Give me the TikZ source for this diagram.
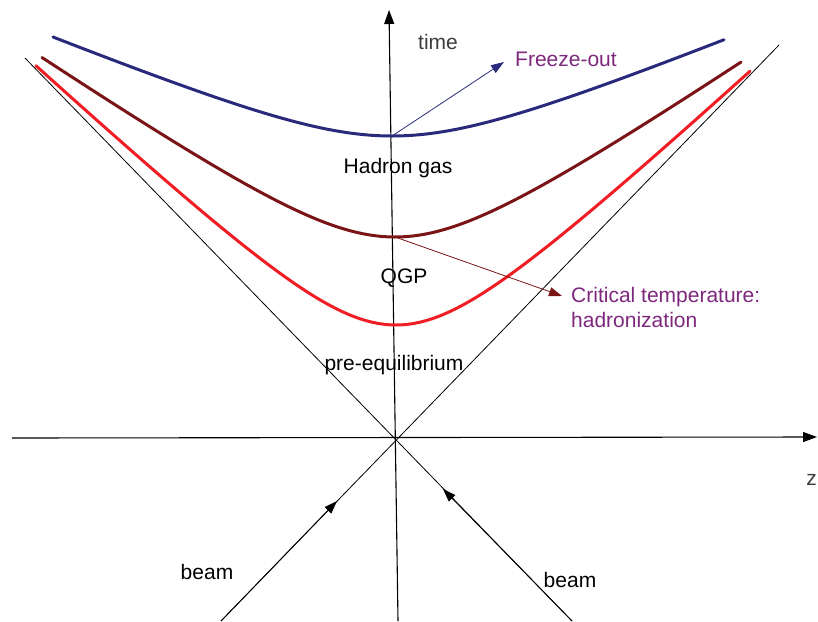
\documentclass[tikz,border=0pt]{standalone}
\usepackage{fontspec}
\setmainfont{Liberation Sans}
\usetikzlibrary{arrows.meta}
\definecolor{fzblue}{RGB}{42,42,125}
\definecolor{tcred}{RGB}{122,20,22}
\definecolor{qred}{RGB}{240,30,36}
\definecolor{lblpurple}{RGB}{125,40,125}
\definecolor{timegray}{RGB}{60,60,60}
\begin{document}
\begin{tikzpicture}[x=1pt,y=-1pt,
  lbl/.style={font=\fontsize{21}{25}\selectfont, inner sep=0pt},
  thinline/.style={line width=0.8pt, black},
  axis/.style={line width=1.1pt, black, -{Triangle[length=14pt,width=10pt]}},
  tip/.style={-{Triangle[length=13pt,width=9pt]}},
  curve/.style={line width=3pt, line cap=round, smooth, samples=120}]
\useasboundingbox (0,0) rectangle (818,621);
\clip (0,0) rectangle (818,621);
% coordinates
\coordinate (o) at (396,440);
\coordinate (tbot) at (398,621);
\coordinate (ttop) at (389,10);
\coordinate (zl) at (12,438);
\coordinate (zr) at (817,437);
\coordinate (lctl) at (25,58);
\coordinate (lcbr) at (572,621);
\coordinate (lctr) at (779,45);
\coordinate (lcbl) at (221,621);
\coordinate (bltip) at (337,501);
\coordinate (brtip) at (443,489);
\coordinate (fmin) at (392,136);
\coordinate (ftip) at (504,62);
\coordinate (cmin) at (395,237);
\coordinate (ctip) at (562,296);
% light cone lines
\draw[thinline] (lctl) -- (lcbr);
\draw[thinline] (lctr) -- (lcbl);
% axes
\draw[axis] (tbot) -- (ttop);
\draw[axis] (zl) -- (zr);
% beam arrows
\draw[thinline, tip] (lcbl) -- (bltip);
\draw[thinline, tip] (lcbr) -- (brtip);
% curves
\draw[curve, fzblue] plot[domain=-339:332] ({392+\x},{136+48.6-100*sqrt(0.486*0.486+0.169*(\x/100)*(\x/100))});
\draw[curve, tcred] plot[domain=-353:346] ({395+\x},{237+71.3-100*sqrt(0.713*0.713+0.464*(\x/100)*(\x/100))});
\draw[curve, qred] plot[domain=-360:354] ({396+\x},{325+86.6-100*sqrt(0.866*0.866+0.865*(\x/100)*(\x/100))});
% pointer arrows
\draw[fzblue, line width=0.8pt, tip] (fmin) -- (ftip);
\draw[tcred, line width=0.8pt, tip] (cmin) -- (ctip);
% labels
\node[lbl, text=timegray] (time) at (438,42) {time};
\node[lbl, text=lblpurple, anchor=west] (fo) at (515,59) {Freeze-out};
\node[lbl] (hg) at (398,168) {Hadron gas};
\node[lbl] (qgp) at (404,278) {QGP};
\node[lbl] (pre) at (394,365) {pre-equilibrium};
\node[lbl, text=lblpurple, anchor=west, align=left] (ct) at (571,307) {Critical temperature:\\hadronization};
\node[lbl] (beaml) at (207,572) {beam};
\node[lbl] (beamr) at (570,580) {beam};
\node[lbl, text=timegray, anchor=east] (z) at (817,480) {z};
\end{tikzpicture}
\end{document}
